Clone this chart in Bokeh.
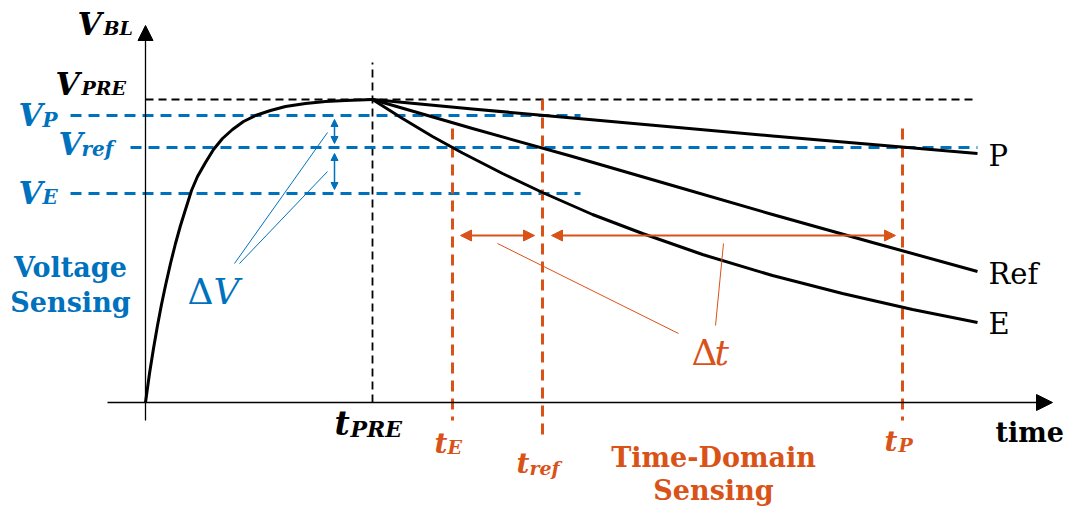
from bokeh.plotting import figure
from bokeh.models import Range1d, Arrow, NormalHead
from bokeh.core.properties import value
from bokeh.embed import file_html
from bokeh.resources import INLINE

BLUE = "#0072BD"
ORANGE = "#D95319"
BLACK = "#000000"

# Bit-line voltage levels (same units as the vertical scale)
V_PRE = 303
V_P = 287
V_REF = 255
V_E = 209

# Time instants
T_PRE = 227
T_E = 307
T_REF = 397
T_P = 757
T_END = 832

# Precharge phase of V_BL
CHARGE_T = [0, 4, 8, 12, 16, 20, 25, 30, 35, 40, 46, 52, 60, 68, 77, 87, 98,
            110, 125, 140, 160, 180, 200, 227]
CHARGE_V = [0, 29, 54, 77, 98, 117, 139, 159, 177, 193, 212, 226, 240, 253,
            264, 273, 281, 287, 292, 296, 299, 301, 302, 303]

# Discharge after precharge for the three cell states
DECAY_T = [227, 327, 427, 527, 627, 727, 832]
P_V = [303, 293.5, 284.5, 275.5, 266.5, 258, 249]
REF_V = [303, 274, 246, 217, 188, 160, 131]
E_T = [227, 257, 287, 317, 357, 397, 447, 497, 557, 627, 697, 767, 832]
E_V = [303, 284, 266, 249.5, 229, 210, 188, 169, 148, 127, 109, 93, 80]

CURVE_NAMES = ["P", "Ref", "E"]

W, H = 1069, 512
X0, Y0 = 145, 402   # canvas position of the origin
TEXT_LIFT = 10      # baseline correction for the SVG text glyphs


def cx(x):
    return x - X0


def cy(y):
    return Y0 - y


p = figure(width=W, height=H,
           x_range=Range1d(-X0, W - X0), y_range=Range1d(-(H - Y0), Y0),
           x_axis_type=None, y_axis_type=None,
           output_backend="svg", toolbar_location=None,
           min_border=0, min_border_left=0, min_border_right=0,
           min_border_top=0, min_border_bottom=0)
p.outline_line_color = None
p.background_fill_color = "white"
p.border_fill_color = "white"
p.grid.visible = False


def text(x, y, s, size, color, style="normal", font="DejaVu Serif", align="left"):
    p.text(x=[cx(x)], y=[cy(y - TEXT_LIFT)], text=[s], text_font=value(font),
           text_font_style=style, text_font_size=f"{size}px",
           text_color=color, text_align=align, text_baseline="alphabetic")


# ---- axes with arrowheads ----
p.add_layout(Arrow(end=NormalHead(size=15, fill_color=BLACK, line_color=BLACK),
                   x_start=0, y_start=-18, x_end=0, y_end=377,
                   line_color=BLACK, line_width=1.3))
p.add_layout(Arrow(end=NormalHead(size=16, fill_color=BLACK, line_color=BLACK),
                   x_start=-38, y_start=0, x_end=907, y_end=0,
                   line_color=BLACK, line_width=1.3))

# ---- reference levels and instants ----
p.line([0, T_END], [V_PRE, V_PRE], line_color=BLACK, line_width=1.8, line_dash="8 5")
p.line([T_PRE, T_PRE], [0, 340], line_color=BLACK, line_width=1.8, line_dash="8 5")

p.line([-75, 435], [V_P, V_P], line_color=BLUE, line_width=3, line_dash="11 7")
p.line([-15, T_END], [V_REF, V_REF], line_color=BLUE, line_width=3, line_dash="11 7")
p.line([-75, 435], [V_E, V_E], line_color=BLUE, line_width=3, line_dash="11 7")

p.line([T_E, T_E], [274, -18], line_color=ORANGE, line_width=3, line_dash="11 7")
p.line([T_REF, T_REF], [V_PRE, -36], line_color=ORANGE, line_width=3, line_dash="11 7")
p.line([T_P, T_P], [274, -18], line_color=ORANGE, line_width=3, line_dash="11 7")

# ---- bit-line curves ----
p.line(CHARGE_T, CHARGE_V, line_color=BLACK, line_width=3, line_join="round")
p.line(DECAY_T, P_V, line_color=BLACK, line_width=3, line_join="round")
p.line(DECAY_T, REF_V, line_color=BLACK, line_width=3, line_join="round")
p.line(E_T, E_V, line_color=BLACK, line_width=3, line_join="round")

# ---- voltage margins ----
for v0, v1 in [(V_P - 4, V_REF + 4), (V_REF - 6, V_E + 4)]:
    p.add_layout(Arrow(start=NormalHead(size=7, fill_color=BLUE, line_color=BLUE),
                       end=NormalHead(size=7, fill_color=BLUE, line_color=BLUE),
                       x_start=189, y_start=v0, x_end=189, y_end=v1,
                       line_color=BLUE, line_width=1.5))

# ---- time margins ----
ARROW_V = 167
for t0, t1 in [(T_E + 8, T_REF - 8), (T_REF + 9, T_P - 7)]:
    p.add_layout(Arrow(start=NormalHead(size=11, fill_color=ORANGE, line_color=ORANGE),
                       end=NormalHead(size=11, fill_color=ORANGE, line_color=ORANGE),
                       x_start=t0, y_start=ARROW_V, x_end=t1, y_end=ARROW_V,
                       line_color=ORANGE, line_width=2))

# ---- callout leaders ----
p.segment(x0=[cx(327), cx(327)], y0=[cy(132), cy(171)],
          x1=[cx(234), cx(239)], y1=[cy(263), cy(263)],
          line_color=BLUE, line_width=1)
p.segment(x0=[cx(497), cx(723)], y0=[cy(243), cy(243)],
          x1=[cx(678), cx(715)], y1=[cy(333), cy(325)],
          line_color=ORANGE, line_width=1)

# ---- labels ----
MATH = "bold italic"
text(77, 33, "V", 31, BLACK, MATH)
text(103, 37, "BL", 19, BLACK, MATH)
text(55, 93, "V", 31, BLACK, MATH)
text(81, 97, "PRE", 19, BLACK, MATH)

text(18, 124, "V", 31, BLUE, MATH)
text(42, 129, "P", 20, BLUE, MATH)
text(58, 153, "V", 31, BLUE, MATH)
text(81, 158, "ref", 20, BLUE, MATH)
text(18, 202, "V", 31, BLUE, MATH)
text(42, 206, "E", 20, BLUE, MATH)

text(70, 277, "Voltage", 27, BLUE, "bold", align="center")
text(70, 312, "Sensing", 27, BLUE, "bold", align="center")

text(187, 301, "Δ", 36, BLUE)
text(213, 301, "V", 36, BLUE, "italic")

text(334, 433, "t", 33, BLACK, MATH)
text(350, 438, "PRE", 22, BLACK, MATH)
text(434, 453, "t", 28, ORANGE, MATH)
text(447, 456, "E", 19, ORANGE, MATH)
text(516, 473, "t", 28, ORANGE, MATH)
text(529, 477, "ref", 19, ORANGE, MATH)
text(884, 451, "t", 28, ORANGE, MATH)
text(898, 454, "P", 19, ORANGE, MATH)

text(713, 467, "Time-Domain", 27, ORANGE, "bold", align="center")
text(713, 500, "Sensing", 27, ORANGE, "bold", align="center")

text(691, 362, "Δ", 36, ORANGE)
text(714, 362, "t", 36, ORANGE, "italic")

text(995, 442, "time", 27, BLACK, "bold")

for name, y in zip(CURVE_NAMES, [165, 283, 333]):
    text(988, y, name, 29, BLACK)

open("out.html", "w").write(file_html(p, INLINE))
